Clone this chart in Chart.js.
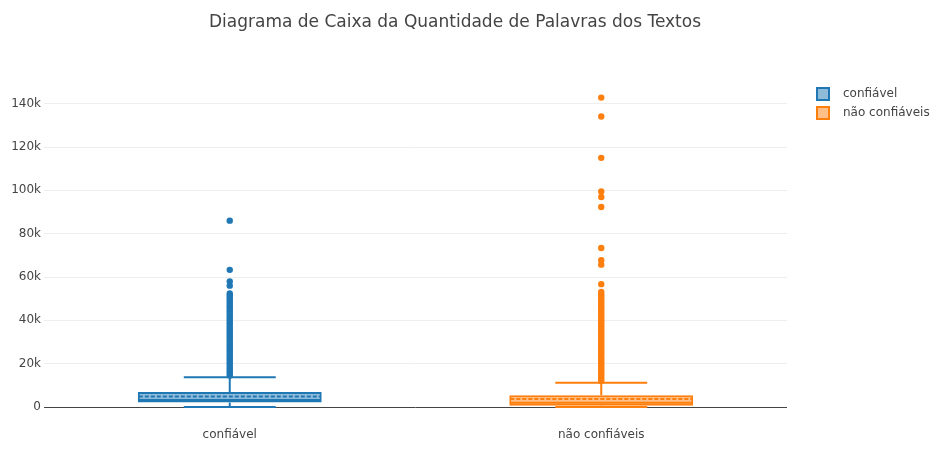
<!DOCTYPE html>
<html>
<head>
<meta charset="utf-8">
<script src="https://cdn.jsdelivr.net/npm/chart.js"></script>
<style>
  html, body { margin: 0; padding: 0; background: #fff; }
  canvas { display: block; }
</style>
</head>
<body>
<canvas id="chart" width="948" height="474"></canvas>
<script>
// box plot statistics, one entry per category
const categories = ['confiável', 'não confiáveis']
const lowerFence = [0, 0]
const q1 = [2100, 600]
const medians = [3200, 2000]
const means = [4800, 3700]
const q3 = [6900, 5400]
const upperFence = [13700, 11200]

// outliers
const outliersConfiavel = [86000, 63300, 58000, 56000, 52400, 51500, 50500, 49500, 48500, 47500,
  46500, 45500, 44500, 43500, 42500, 41500, 40500, 39500, 38500, 37500, 36500, 35500, 34500,
  33500, 32500, 31500, 30500, 29500, 28500, 27500, 26500, 25500, 24500, 23500, 22500, 21500,
  20500, 19500, 18500, 17500, 16500, 15500, 14500]
const outliersNaoConfiaveis = [142800, 134100, 115000, 99500, 96900, 92300, 73400, 67700, 65700,
  56700, 53100, 52000, 51000, 50000, 49000, 48000, 47000, 46000, 45000, 44000, 43000, 42000,
  41000, 40000, 39000, 38000, 37000, 36000, 35000, 34000, 33000, 32000, 31000, 30000, 29000,
  28000, 27000, 26000, 25000, 24000, 23000, 22000, 21000, 20000, 19000, 18000, 17000, 16000,
  15000, 14000, 13000, 12000]

const yTicks = [0, 20000, 40000, 60000, 80000, 100000, 120000, 140000]

const colors = ['#1f77b4', '#ff7f0e']
const fills = ['rgba(31,119,180,0.5)', 'rgba(255,127,14,0.5)']
const titleText = 'Diagrama de Caixa da Quantidade de Palavras dos Textos'
const fontFamily = '"DejaVu Sans", verdana, arial, sans-serif'

Chart.defaults.font.family = fontFamily
Chart.defaults.color = '#444'

function boxRange(i) {
  return categories.map((c, j) => j === i ? [q1[i], q3[i]] : null)
}

function pointsFor(cat, values) {
  return values.map(v => ({x: cat, y: v}))
}

// whiskers, median and mean, placed through the chart scales
const boxLines = {
  id: 'boxLines',
  afterDatasetsDraw(chart) {
    const {ctx, scales: {y}} = chart
    categories.forEach((cat, i) => {
      const bar = chart.getDatasetMeta(i).data[i]
      const {x: cx, width} = bar.getProps(['x', 'width'], true)
      const half = width / 2
      const cap = width / 4
      ctx.save()
      ctx.strokeStyle = colors[i]
      ctx.lineWidth = 2

      ctx.beginPath()
      ctx.moveTo(cx, y.getPixelForValue(q3[i]))
      ctx.lineTo(cx, y.getPixelForValue(upperFence[i]))
      ctx.moveTo(cx - cap, y.getPixelForValue(upperFence[i]))
      ctx.lineTo(cx + cap, y.getPixelForValue(upperFence[i]))
      ctx.moveTo(cx, y.getPixelForValue(q1[i]))
      ctx.lineTo(cx, y.getPixelForValue(lowerFence[i]))
      ctx.moveTo(cx - cap, y.getPixelForValue(lowerFence[i]))
      ctx.lineTo(cx + cap, y.getPixelForValue(lowerFence[i]))
      ctx.moveTo(cx - half + 1, y.getPixelForValue(medians[i]))
      ctx.lineTo(cx + half - 1, y.getPixelForValue(medians[i]))
      ctx.stroke()

      ctx.setLineDash([4, 2])
      ctx.beginPath()
      ctx.moveTo(cx - half + 1, y.getPixelForValue(means[i]))
      ctx.lineTo(cx + half - 1, y.getPixelForValue(means[i]))
      ctx.stroke()
      ctx.restore()
    })
  }
}

// title and legend in plotly positions
const titleLegend = {
  id: 'titleLegend',
  afterDraw(chart) {
    const {ctx} = chart
    ctx.save()
    ctx.fillStyle = '#444'
    ctx.textBaseline = 'middle'
    ctx.textAlign = 'center'
    ctx.font = '17px ' + fontFamily
    ctx.fillText(titleText, 455, 23)

    ctx.textAlign = 'left'
    ctx.font = '12px ' + fontFamily
    categories.forEach((cat, i) => {
      const top = 88 + i * 19
      ctx.fillStyle = fills[i]
      ctx.fillRect(817, top, 12, 12)
      ctx.strokeStyle = colors[i]
      ctx.lineWidth = 2
      ctx.strokeRect(817, top, 12, 12)
      ctx.fillStyle = '#444'
      ctx.fillText(cat, 843, top + 6)
    })
    ctx.restore()
  }
}

const datasets = [
  ...categories.map((cat, i) => ({
    type: 'bar',
    label: cat,
    data: boxRange(i),
    backgroundColor: fills[i],
    borderColor: colors[i],
    borderWidth: 2,
    borderSkipped: false,
    grouped: false,
    skipNull: true,
    barPercentage: 0.495,
    categoryPercentage: 1
  })),
  {
    type: 'line',
    label: categories[0] + ' outliers',
    data: pointsFor(categories[0], outliersConfiavel),
    showLine: false,
    pointRadius: 3.2,
    pointBorderWidth: 0,
    pointBackgroundColor: colors[0]
  },
  {
    type: 'line',
    label: categories[1] + ' outliers',
    data: pointsFor(categories[1], outliersNaoConfiaveis),
    showLine: false,
    pointRadius: 3.2,
    pointBorderWidth: 0,
    pointBackgroundColor: colors[1]
  }
]

new Chart(document.getElementById('chart'), {
  data: {labels: categories, datasets},
  options: {
    responsive: false,
    animation: false,
    events: [],
    layout: {padding: {left: 0, right: 161, top: 82, bottom: 0}},
    plugins: {legend: {display: false}, title: {display: false}, tooltip: {enabled: false}},
    scales: {
      x: {
        type: 'category',
        grid: {display: false, drawTicks: false},
        border: {display: false},
        ticks: {font: {size: 12}, color: '#444', padding: 8},
        afterFit(scale) { scale.height = 54 }
      },
      y: {
        min: -6000,
        max: 150000,
        grid: {
          drawTicks: false,
          color: c => c.tick.value === 0 ? '#444' : '#eee',
          lineWidth: 1
        },
        border: {display: false},
        ticks: {
          font: {size: 12},
          color: '#444',
          padding: 3,
          callback: v => v === 0 ? '0' : (v / 1000) + 'k'
        },
        afterBuildTicks(scale) { scale.ticks = yTicks.map(v => ({value: v})) },
        afterFit(scale) { scale.width = 44 }
      }
    }
  },
  plugins: [boxLines, titleLegend]
})
</script>
</body>
</html>
